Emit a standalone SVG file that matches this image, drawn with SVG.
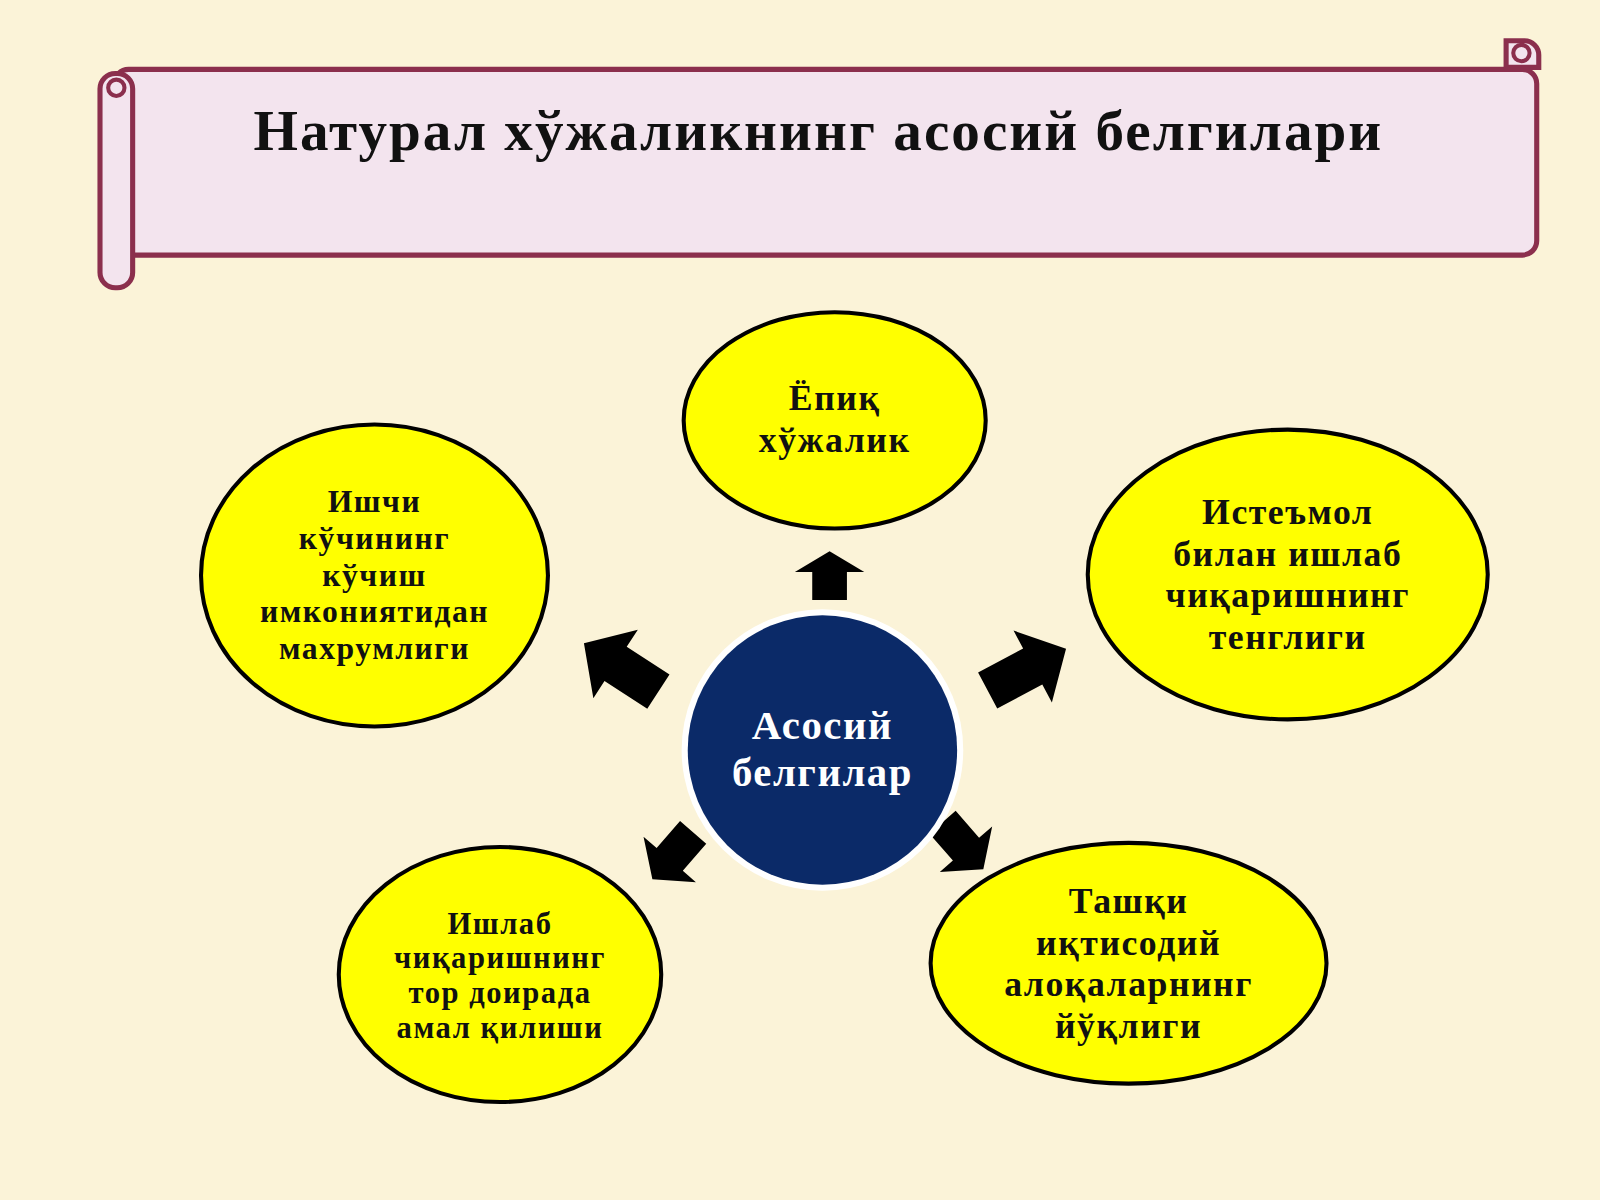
<svg xmlns="http://www.w3.org/2000/svg" width="1600" height="1200" viewBox="0 0 1600 1200">
<defs>
<style>
.e{fill:#ffff00;stroke:#000;stroke-width:4}
.t{font-family:"Liberation Serif","DejaVu Serif",serif;font-weight:bold;text-anchor:middle;fill:#111;letter-spacing:1.5px}
.s{fill:#f3e4ee;stroke:#8b2f4d;stroke-width:5}
</style>
<path id="ar" d="M0,-45 L40,-8 L20,-8 L20,42 L-20,42 L-20,-8 L-40,-8 Z" fill="#000"/>
</defs>
<rect width="1600" height="1200" fill="#fbf3d8"/>
<g transform="scale(1.0204)">
<g id="banner">
<rect class="s" x="112" y="68" width="1394" height="182" rx="14"/>
<rect class="s" x="98" y="72" width="32" height="210" rx="15"/>
<path class="s" d="M1476,40 h18 a14,14 0 0 1 14,14 v12 h-32 z"/>
<circle cx="1491" cy="52" r="8" fill="none" stroke="#8b2f4d" stroke-width="4"/>
<circle cx="114" cy="86" r="8" fill="none" stroke="#8b2f4d" stroke-width="4"/>
<text class="t" x="802" y="147" font-size="56" style="letter-spacing:2px">Натурал хўжаликнинг асосий белгилари</text>
</g>
<g id="connectors">
<use href="#ar" transform="translate(813,565) scale(0.85,0.55)"/>
<use href="#ar" transform="translate(610,655) rotate(-57)"/>
<use href="#ar" transform="translate(1005,657) rotate(62)"/>
<use href="#ar" transform="translate(660,838) rotate(-139) scale(0.85,0.7)"/>
<use href="#ar" transform="translate(943,828) rotate(139) scale(0.85,0.7)"/>
</g>
<g id="center">
<circle cx="806" cy="735" r="138" fill="#fff"/>
<circle cx="806" cy="735" r="132" fill="#0b2a68"/>
<text class="t" x="806" y="724" font-size="40" style="fill:#fff">Асосий</text>
<text class="t" x="806" y="770" font-size="40" style="fill:#fff">белгилар</text>
</g>
<g id="n1">
<ellipse class="e" cx="818" cy="412" rx="148" ry="106"/>
<text class="t" x="818" y="402" font-size="35">Ёпиқ</text>
<text class="t" x="818" y="443" font-size="35">хўжалик</text>
</g>
<g id="n2">
<ellipse class="e" cx="367" cy="564" rx="170" ry="148"/>
<text class="t" font-size="31"><tspan x="367" y="502">Ишчи</tspan><tspan x="367" y="538">кўчининг</tspan><tspan x="367" y="574">кўчиш</tspan><tspan x="367" y="610">имкониятидан</tspan><tspan x="367" y="646">махрумлиги</tspan></text>
</g>
<g id="n3">
<ellipse class="e" cx="1262" cy="563" rx="196" ry="142"/>
<text class="t" font-size="35"><tspan x="1262" y="514">Истеъмол</tspan><tspan x="1262" y="555">билан ишлаб</tspan><tspan x="1262" y="595">чиқаришнинг</tspan><tspan x="1262" y="636">тенглиги</tspan></text>
</g>
<g id="n4">
<ellipse class="e" cx="490" cy="955" rx="158" ry="125"/>
<text class="t" font-size="30"><tspan x="490" y="915">Ишлаб</tspan><tspan x="490" y="949">чиқаришнинг</tspan><tspan x="490" y="983">тор доирада</tspan><tspan x="490" y="1017">амал қилиши</tspan></text>
</g>
<g id="n5">
<ellipse class="e" cx="1106" cy="944" rx="194" ry="118"/>
<text class="t" font-size="35"><tspan x="1106" y="895">Ташқи</tspan><tspan x="1106" y="936">иқтисодий</tspan><tspan x="1106" y="976">алоқаларнинг</tspan><tspan x="1106" y="1017">йўқлиги</tspan></text>
</g>
</g>
</svg>
